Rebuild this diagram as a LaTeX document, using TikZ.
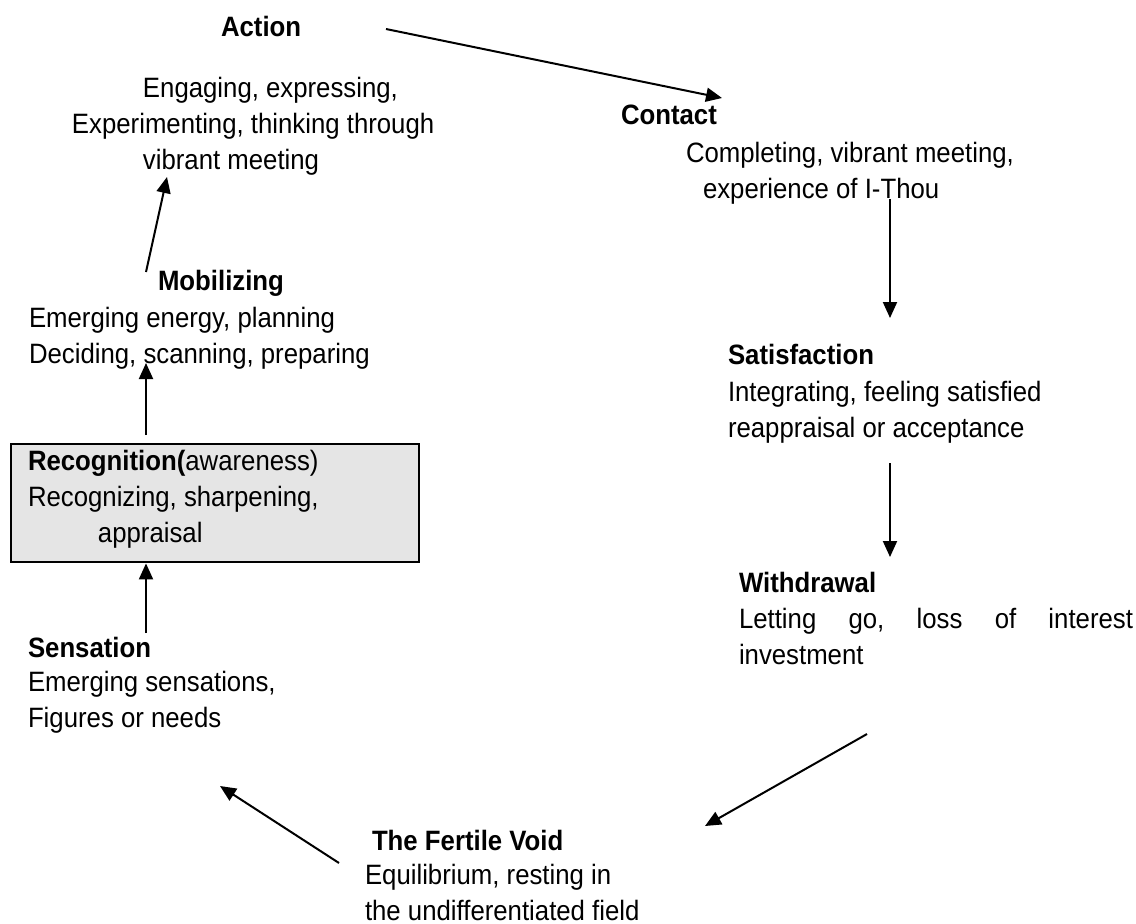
\documentclass[tikz,border=0pt]{standalone}
\usepackage{fontspec}
\setmainfont[FakeStretch=0.92]{Liberation Sans}
\usetikzlibrary{arrows.meta,positioning}

\begin{document}
\begin{tikzpicture}[x=0.5pt,y=-0.5pt,->,>={Triangle[length=8pt,width=7pt]},line width=1pt,
  stage title/.style={anchor=base west,inner sep=0pt,
  font=\fontsize{14}{18}\selectfont\bfseries},
  stage text/.style={anchor=base west,inner sep=0pt,align=left,
  font=\fontsize{14}{18}\selectfont},
  recog box/.style={draw,line width=1.2pt,fill=gray!20,anchor=north west,
  minimum width=204pt,minimum height=59pt,inner sep=0pt}]

  \useasboundingbox (0,0) rectangle (1136,923);

  % texts are placed by the baseline of their last line
  \node[stage title] (act) at (220,36) {Action};
  \node[stage text] (act-txt) at (71,169) {\hspace*{35.5pt}Engaging, expressing,\\
    Experimenting, thinking through\\ \hspace*{35.5pt}vibrant meeting};

  \node[stage title] (con) at (620,124) {Contact};
  \node[stage text] (con-txt) at (685,198) {Completing, vibrant meeting,\\
    \hspace*{8.5pt}experience of I-Thou};

  \node[stage title] (sat) at (727,364) {Satisfaction};
  \node[stage text] (sat-txt) at (727,437) {Integrating, feeling satisfied\\
    reappraisal or acceptance};

  \node[stage title] (wit) at (738,592) {Withdrawal};
  \node[stage text] (wit-txt) at (738,664)
    {\hbox to 197pt{Letting\hfill go,\hfill loss\hfill of\hfill interest}\\investment};

  \node[stage title] (voi) at (371,850) {The Fertile Void};
  \node[stage text] (voi-txt) at (364,920) {Equilibrium, resting in\\
    the undifferentiated field};

  \node[stage title] (sen) at (27,657) {Sensation};
  \node[stage text] (sen-txt) at (27,727) {Emerging sensations,\\Figures or needs};

  \node[recog box] (rec) at (10,443) {};
  \node[stage text] (rec-txt) at (27,542) {\textbf{Recognition(}awareness)\\
    Recognizing, sharpening,\\ \hspace*{35pt}appraisal};

  \node[stage title] (mob) at (157,290) {Mobilizing};
  \node[stage text] (mob-txt) at (28,363) {Emerging energy, planning\\
    Deciding, scanning, preparing};

  % arrow ends
  \coordinate (act-out) at (386,29);
  \coordinate (con-in) at (722,98);
  \coordinate (con-out) at (890,199);
  \coordinate (sat-in) at (890,318);
  \coordinate (sat-out) at (890,463);
  \coordinate (wit-in) at (890,557);
  \coordinate (wit-out) at (867,734);
  \coordinate (voi-in) at (705,826);
  \coordinate (voi-out) at (339,863);
  \coordinate (sen-in) at (220,786);
  \coordinate (sen-out) at (146,633);
  \coordinate (mob-in) at (146,363);
  \coordinate (mob-out) at (146,272);
  \coordinate (act-in) at (167,177);

  % the cycle
  \draw (act-out) -- (con-in);
  \draw (con-out) -- (sat-in);
  \draw (sat-out) -- (wit-in);
  \draw (wit-out) -- (voi-in);
  \draw (voi-out) -- (sen-in);
  \draw (sen-out) -- (sen-out |- rec.south);
  \draw[shorten <=4pt] (rec.north -| mob-in) -- (mob-in);
  \draw (mob-out) -- (act-in);

\end{tikzpicture}
\end{document}
